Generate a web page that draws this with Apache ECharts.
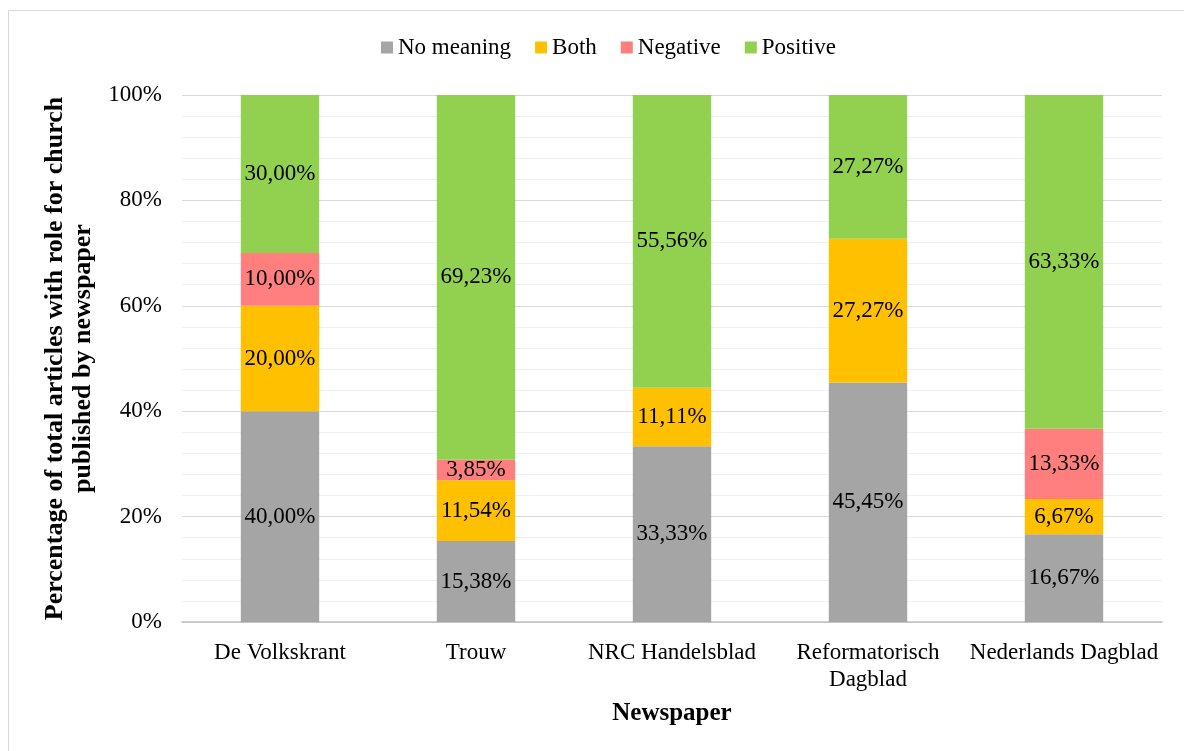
<!DOCTYPE html>
<html><head><meta charset="utf-8">
<script src="https://cdn.jsdelivr.net/npm/echarts@6/dist/echarts.min.js"></script>
<style>html,body{margin:0;padding:0;background:#fff}#c{width:1184px;height:751px}</style>
</head><body><div id="c"></div>
<script>
const categories = ['De Volkskrant', 'Trouw', 'NRC Handelsblad', 'Reformatorisch\nDagblad', 'Nederlands Dagblad'];
const noMeaning = [40.00, 15.38, 33.33, 45.45, 16.67];
const both = [20.00, 11.54, 11.11, 27.27, 6.67];
const negative = [10.00, 3.85, 0, 0, 13.33];
const positive = [30.00, 69.23, 55.56, 27.27, 63.33];
const yTicks = [0, 20, 40, 60, 80, 100];

const font = 'Liberation Serif';
const fs = 23;
const fmt = p => p.value > 0 ? p.value.toFixed(2).replace('.', ',') + '%' : '';
function s(name, data, color) {
  return {
    name, type: 'bar', stack: 'all', data, barWidth: '40%',
    itemStyle: { color },
    label: { show: true, position: 'inside', formatter: fmt, color: '#000', fontFamily: font, fontSize: fs }
  };
}
const chart = echarts.init(document.getElementById('c'));
chart.setOption({
  animation: false,
  textStyle: { fontFamily: font },
  graphic: [{ type: 'rect', shape: { x: 8.5, y: 10.5, width: 1300, height: 900 }, style: { fill: 'none', stroke: '#d9d9d9', lineWidth: 1 }, z: -1 }],
  legend: {
    top: 31, left: 376, itemWidth: 12, itemHeight: 12, itemGap: 24,
    icon: 'rect',
    textStyle: { fontFamily: font, fontSize: fs, color: '#000' },
    data: ['No meaning', 'Both', 'Negative', 'Positive']
  },
  grid: { left: 182, right: 22, top: 95, bottom: 129 },
  xAxis: {
    type: 'category', data: categories,
    name: 'Newspaper', nameLocation: 'middle', nameGap: 79,
    nameTextStyle: { fontFamily: font, fontSize: 25, fontWeight: 'bold', color: '#000' },
    axisLine: { lineStyle: { color: '#bfbfbf', width: 1.5 } },
    axisTick: { show: false },
    axisLabel: { fontFamily: font, fontSize: fs, color: '#000', margin: 17, lineHeight: 27, interval: 0 }
  },
  yAxis: {
    type: 'value', min: 0, max: 100, interval: 20,
    name: 'Percentage of total articles with role for church\npublished by newspaper',
    nameLocation: 'middle', nameRotate: 90, nameGap: 64,
    nameTextStyle: { fontFamily: font, fontSize: 26, fontWeight: 'bold', color: '#000', lineHeight: 28 },
    axisLabel: { fontFamily: font, fontSize: fs, color: '#000', margin: 20,
      formatter: v => yTicks.includes(v) ? v + '%' : '' },
    splitLine: { lineStyle: { color: '#d9d9d9', width: 1 } },
    minorTick: { show: false, splitNumber: 5 },
    minorSplitLine: { show: true, lineStyle: { color: '#f0f0f0', width: 1 } },
    axisLine: { show: false }, axisTick: { show: false }
  },
  series: [
    s('No meaning', noMeaning, '#a5a5a5'),
    s('Both', both, '#ffc000'),
    s('Negative', negative, '#ff7f7f'),
    s('Positive', positive, '#92d050')
  ]
});
</script></body></html>
